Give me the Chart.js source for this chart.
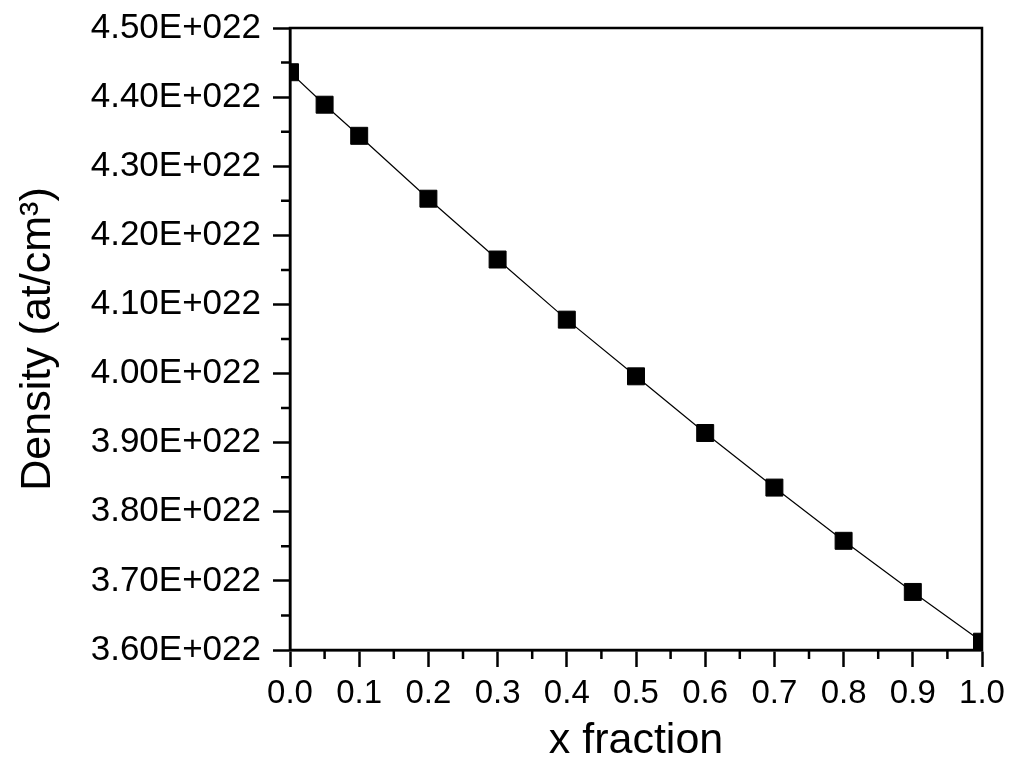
<!DOCTYPE html>
<html>
<head>
<meta charset="utf-8">
<script src="https://cdn.jsdelivr.net/npm/chart.js@4/dist/chart.umd.min.js"></script>
<style>
  html, body { margin: 0; padding: 0; background: #fff; }
  #wrap { width: 1013px; height: 767px; }
</style>
</head>
<body>
<div id="wrap"><canvas id="densityChart"></canvas></div>
<script>
// --- data ---
const xFraction = [0.0, 0.05, 0.1, 0.2, 0.3, 0.4, 0.5, 0.6, 0.7, 0.8, 0.9, 1.0];
const density   = [4.436e22, 4.389e22, 4.344e22, 4.253e22, 4.165e22, 4.078e22,
                   3.996e22, 3.914e22, 3.835e22, 3.758e22, 3.684e22, 3.612e22];

const xTicks = [0.0, 0.1, 0.2, 0.3, 0.4, 0.5, 0.6, 0.7, 0.8, 0.9, 1.0];
const yTicks = [3.6e22, 3.7e22, 3.8e22, 3.9e22, 4.0e22, 4.1e22, 4.2e22, 4.3e22, 4.4e22, 4.5e22];
const xMinor = [0.05, 0.15, 0.25, 0.35, 0.45, 0.55, 0.65, 0.75, 0.85, 0.95];
const yMinor = [3.65e22, 3.75e22, 3.85e22, 3.95e22, 4.05e22, 4.15e22, 4.25e22, 4.35e22, 4.45e22];

const FONT = "'Liberation Sans', Arial, sans-serif";

// frame on top/right + minor ticks, positioned through the chart scales
const framePlugin = {
  id: 'frame',
  afterDraw(chart) {
    const { ctx, chartArea: a, scales } = chart;
    ctx.save();
    ctx.strokeStyle = '#000';
    ctx.lineWidth = 2.5;
    ctx.strokeRect(a.left, a.top, a.right - a.left, a.bottom - a.top);

    // minor ticks
    ctx.beginPath();
    xMinor.forEach(v => {
      const px = scales.x.getPixelForValue(v);
      ctx.moveTo(px, a.bottom);
      ctx.lineTo(px, a.bottom + 9);
    });
    yMinor.forEach(v => {
      const py = scales.y.getPixelForValue(v);
      ctx.moveTo(a.left, py);
      ctx.lineTo(a.left - 9, py);
    });
    ctx.stroke();
    ctx.restore();
  }
};

const ctx = document.getElementById('densityChart').getContext('2d');
const chart = new Chart(ctx, {
  type: 'line',
  data: {
    datasets: [{
      data: xFraction.map((x, i) => ({ x: x, y: density[i] })),
      borderColor: '#000',
      borderWidth: 1.2,
      tension: 0,
      fill: false,
      clip: 0,
      pointStyle: 'rect',
      pointRadius: 12,
      pointHoverRadius: 12,
      pointBackgroundColor: '#000',
      pointBorderColor: '#000',
      pointBorderWidth: 1
    }]
  },
  options: {
    responsive: true,
    maintainAspectRatio: false,
    animation: false,
    layout: { padding: { left: 12, right: 31, top: 28, bottom: 0 } },
    plugins: {
      legend: { display: false },
      tooltip: { enabled: false }
    },
    scales: {
      x: {
        type: 'linear',
        min: 0,
        max: 1,
        afterBuildTicks: axis => { axis.ticks = xTicks.map(v => ({ value: v })); },
        afterFit: scale => { scale.height = 117; scale.paddingLeft = 0; scale.paddingRight = 0; },
        ticks: {
          color: '#000',
          font: { family: FONT, size: 33 },
          padding: 7,
          maxRotation: 0,
          autoSkip: false,
          callback: v => v.toFixed(1)
        },
        grid: {
          drawOnChartArea: false,
          drawTicks: true,
          tickLength: 17,
          tickWidth: 2.5,
          tickColor: '#000'
        },
        border: { display: true, color: '#000', width: 2.5 },
        title: {
          display: true,
          text: 'x fraction',
          color: '#000',
          font: { family: FONT, size: 43 },
          padding: 0
        }
      },
      y: {
        type: 'linear',
        min: 3.6e22,
        max: 4.5e22,
        afterBuildTicks: axis => { axis.ticks = yTicks.map(v => ({ value: v })); },
        afterFit: scale => { scale.width = 290 - 12; scale.paddingTop = 0; scale.paddingBottom = 0; },
        ticks: {
          color: '#000',
          font: { family: FONT, size: 35 },
          padding: 12,
          autoSkip: false,
          callback: v => (v / 1e22).toFixed(2) + 'E+022'
        },
        grid: {
          drawOnChartArea: false,
          drawTicks: true,
          tickLength: 17,
          tickWidth: 2.5,
          tickColor: '#000'
        },
        border: { display: true, color: '#000', width: 2.5 },
        title: {
          display: true,
          text: 'Density (at/cm³)',
          color: '#000',
          font: { family: FONT, size: 43 },
          padding: 0
        }
      }
    }
  },
  plugins: [framePlugin]
});
</script>
</body>
</html>
